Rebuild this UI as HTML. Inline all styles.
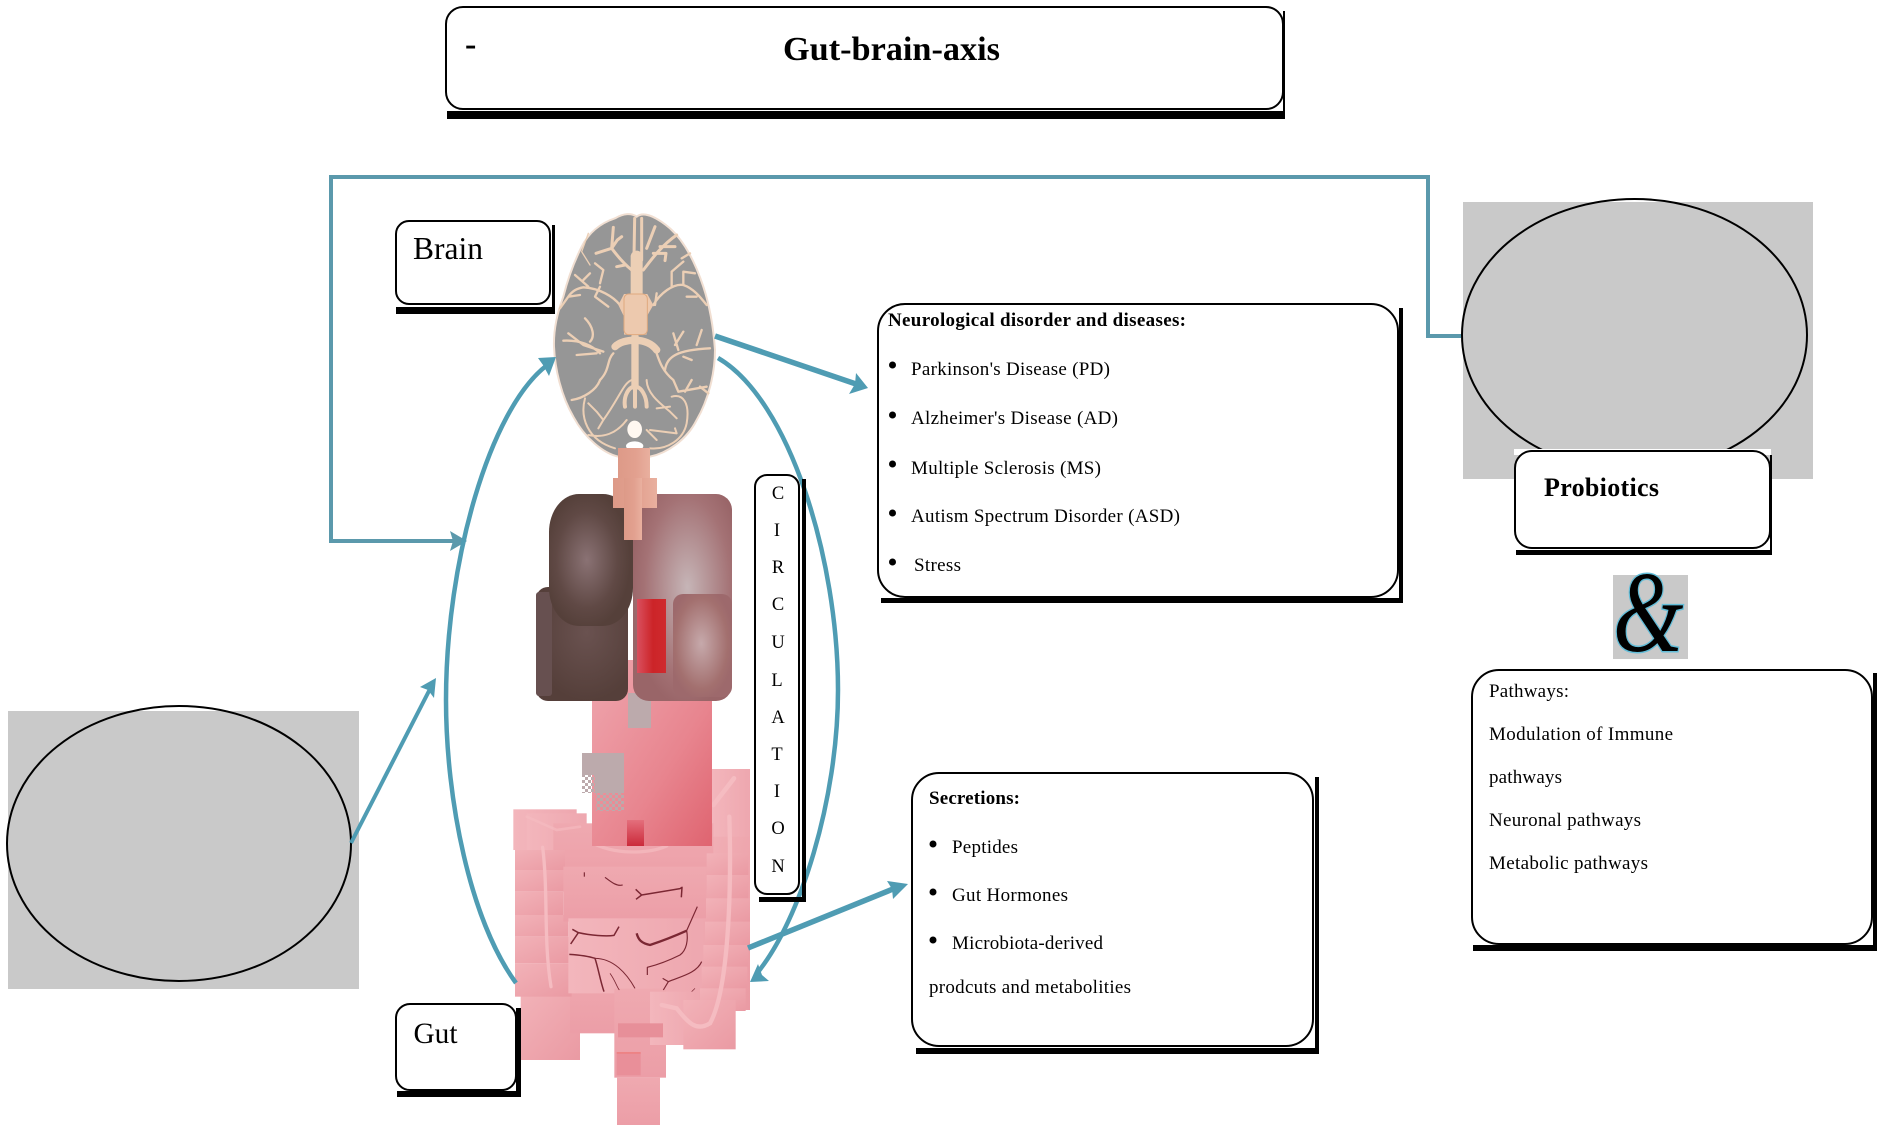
<!DOCTYPE html>
<html><head><meta charset="utf-8"><title>Gut-brain-axis</title>
<style>
html,body{margin:0;padding:0;background:#fff;width:1883px;height:1132px;overflow:hidden}
svg{position:absolute;left:0;top:0;display:block}
text{font-family:"Liberation Serif",serif;fill:#000}
.b{font-weight:bold}
.box{fill:#fff;stroke:#000;stroke-width:2}
</style></head><body>
<svg width="1883" height="1132" viewBox="0 0 1883 1132" xmlns="http://www.w3.org/2000/svg">
<defs>
<linearGradient id="p1" x1="0" y1="0" x2="1" y2="1"><stop offset="0" stop-color="#f2b2b8"/><stop offset="1" stop-color="#ea9aa3"/></linearGradient>
<linearGradient id="p2" x1="0" y1="0" x2="0" y2="1"><stop offset="0" stop-color="#efa9b0"/><stop offset="1" stop-color="#ec9ea7"/></linearGradient>
<linearGradient id="p3" x1="0" y1="0" x2="1" y2="0"><stop offset="0" stop-color="#f3b6bc"/><stop offset="1" stop-color="#eea7af"/></linearGradient>
<linearGradient id="st" x1="0" y1="0" x2="1" y2="1"><stop offset="0" stop-color="#efa6ae"/><stop offset=".6" stop-color="#e8858f"/><stop offset="1" stop-color="#df6470"/></linearGradient>
<linearGradient id="red" x1="0" y1="0" x2="1" y2="0"><stop offset="0" stop-color="#d9505f"/><stop offset=".55" stop-color="#cc2428"/><stop offset="1" stop-color="#cf2a2e"/></linearGradient>
<linearGradient id="red2" x1="0" y1="0" x2="0" y2="1"><stop offset="0" stop-color="#e46f7c"/><stop offset="1" stop-color="#cb2a3a"/></linearGradient>
<linearGradient id="neck" x1="0" y1="0" x2="1" y2="0"><stop offset="0" stop-color="#dd9a88"/><stop offset=".55" stop-color="#e2a08f"/><stop offset="1" stop-color="#e9b09f"/></linearGradient>
<radialGradient id="d1" cx=".45" cy=".5" r=".52"><stop offset="0" stop-color="#8a7274"/><stop offset=".7" stop-color="#604945"/><stop offset="1" stop-color="#55403a"/></radialGradient>
<radialGradient id="d2" cx=".55" cy=".4" r=".6"><stop offset="0" stop-color="#6a5250"/><stop offset="1" stop-color="#553f3a"/></radialGradient>
<radialGradient id="r1" cx=".55" cy=".45" r=".58"><stop offset="0" stop-color="#c6b5b7"/><stop offset=".75" stop-color="#a47275"/><stop offset="1" stop-color="#996568"/></radialGradient>
<radialGradient id="r2" cx=".48" cy=".48" r=".55"><stop offset="0" stop-color="#c6a9ab"/><stop offset=".8" stop-color="#a3706f"/><stop offset="1" stop-color="#9d696c"/></radialGradient>
<pattern id="dith" width="6" height="6" patternUnits="userSpaceOnUse"><rect width="3" height="3" fill="#bcaaac"/><rect x="3" y="3" width="3" height="3" fill="#bcaaac"/></pattern>
</defs>

<!-- left grey figure -->
<rect x="8" y="711" width="351" height="278" fill="#c9c9c9"/>
<ellipse cx="179" cy="843.500" rx="172" ry="137.500" fill="none" stroke="#000" stroke-width="2"/>

<!-- right grey figure -->
<rect x="1463" y="202" width="350" height="277" fill="#c9c9c9"/>
<ellipse cx="1634.500" cy="335" rx="172.500" ry="136" fill="none" stroke="#000" stroke-width="2"/>

<!-- intestines -->
<g transform="translate(480,760) scale(.33333)">
<rect x="695" y="27" width="115" height="225" fill="url(#p3)"/>
<rect x="660" y="230" width="150" height="520" fill="url(#p1)"/>
<rect x="122" y="700" width="178" height="200" fill="url(#p1)"/>
<rect x="270" y="620" width="140" height="200" fill="url(#p2)"/>
<rect x="100" y="148" width="190" height="122" fill="url(#p3)"/>
<rect x="140" y="160" width="180" height="130" fill="url(#p3)"/>
<rect x="220" y="190" width="480" height="200" fill="url(#p2)"/>
<rect x="105" y="270" width="150" height="60" fill="url(#p1)"/>
<rect x="105" y="330" width="150" height="65" fill="url(#p1)"/>
<rect x="105" y="395" width="145" height="70" fill="url(#p1)"/>
<rect x="105" y="465" width="160" height="65" fill="url(#p1)"/>
<rect x="105" y="530" width="165" height="80" fill="url(#p1)"/>
<rect x="105" y="610" width="170" height="100" fill="url(#p1)"/>
<rect x="250" y="320" width="430" height="165" fill="url(#p2)"/>
<rect x="265" y="475" width="415" height="225" fill="url(#p3)"/>
<rect x="680" y="280" width="125" height="65" fill="url(#p1)"/>
<rect x="680" y="345" width="125" height="70" fill="url(#p1)"/>
<rect x="678" y="415" width="132" height="70" fill="url(#p1)"/>
<rect x="675" y="485" width="135" height="70" fill="url(#p1)"/>
<rect x="670" y="555" width="135" height="65" fill="url(#p1)"/>
<rect x="665" y="620" width="137" height="65" fill="url(#p1)"/>
<rect x="660" y="685" width="137" height="68" fill="url(#p1)"/>
<rect x="403" y="686" width="155" height="267" fill="url(#p2)"/>
<rect x="510" y="695" width="150" height="160" fill="url(#p3)"/>
<rect x="610" y="720" width="157" height="148" fill="url(#p1)"/>
<rect x="411" y="953" width="129" height="142" fill="url(#p2)"/>
<rect x="414" y="790" width="135" height="42" fill="#e78f99"/>
<rect x="410" y="878" width="72" height="68" fill="#e98f99"/>
<rect x="410" y="876" width="72" height="5" fill="#f0736f" opacity=".6"/>
<g fill="none" stroke="#f5bcc1" stroke-linecap="round">
<path d="M188 262 C205 400 190 540 213 680" stroke-width="10"/>
<path d="M748 170 C755 400 745 690 690 790 C650 815 625 790 590 745 L545 735" stroke-width="13"/>
<path d="M762 55 L700 135" stroke-width="14"/>
<path d="M140 170 L230 210 L300 200" stroke-width="8" opacity=".6"/>
<path d="M350 255 C420 285 510 280 560 258" stroke-width="10" opacity=".7"/>
</g>
<g fill="none" stroke="#7b2733" stroke-width="3.500" stroke-linejoin="round">
<path d="M313 337 L313 350"/>
<path d="M375 352 C392 365 410 380 428 375"/>
<path d="M467 388 L485 405 L468 418 M485 405 L600 386 L606 382 L604 412" stroke-width="4.500"/>
<path d="M277 508 L295 518 L272 552 M295 518 C330 526 380 530 402 526 L417 500" stroke-width="4.500"/>
<path d="M268 583 C300 585 330 590 345 595 C355 625 360 660 372 695" stroke-width="4.500"/>
<path d="M345 595 C400 595 440 640 465 685" stroke-width="3"/>
<path d="M390 640 C405 660 410 680 418 690" stroke-width="2.500"/>
<path d="M652 440 L620 512 C625 540 620 570 600 585 C570 600 530 615 502 622 L502 645"/>
<path d="M470 520 C475 540 485 550 510 555 C540 545 580 530 620 512" stroke-width="7"/>
<path d="M548 655 L565 665 L550 690 M565 665 C600 650 650 640 665 605"/>
<path d="M635 695 L645 685" stroke-width="2"/>
</g>
</g>

<!-- stomach -->
<rect x="592" y="660" width="120" height="186" fill="url(#st)"/>
<rect x="627" y="820" width="17" height="26" fill="url(#red2)"/>
<rect x="628" y="693" width="23" height="35" fill="#bcaaac"/>
<rect x="582" y="753" width="42" height="22" fill="#bcaaac"/>
<rect x="595" y="775" width="29" height="18" fill="#bcaaac"/>
<rect x="582" y="775" width="13" height="18" fill="url(#dith)"/>
<rect x="596" y="793" width="28" height="18" fill="url(#dith)"/>

<!-- organs -->
<rect x="536" y="587" width="92" height="114" rx="12" fill="url(#d2)"/>
<rect x="536" y="592" width="16" height="104" rx="3" fill="#675050"/>
<rect x="549" y="494" width="84" height="132" rx="30" ry="38" fill="url(#d1)"/>
<rect x="633" y="494" width="99" height="207" rx="16" fill="url(#r1)"/>
<rect x="637" y="599" width="29" height="74" fill="url(#red)"/>
<rect x="673" y="594" width="59" height="103" rx="10" fill="url(#r2)"/>

<!-- brain -->
<g transform="translate(500,190) scale(.33333)">
<path d="M410 80 C395 68 370 70 345 85 C300 100 265 130 245 170 C225 210 205 260 190 320 C175 360 160 410 162 470 C165 540 185 620 220 680 C255 745 310 790 355 800 L450 800 C500 790 560 750 590 690 C625 630 645 550 645 480 C640 410 630 350 610 290 C590 230 560 160 510 115 C480 90 435 60 410 80 Z" fill="#969696" stroke="#f1dfd2" stroke-width="6"/>
<g fill="none" stroke="#eccfb5" stroke-width="8" stroke-linecap="round" stroke-linejoin="round">
<path d="M404 85 L402 200 M425 85 L425 210" stroke-width="9"/>
<path d="M410 200 L410 310" stroke-width="36"/>
<path d="M395 240 C370 220 350 195 335 175 L288 190 M335 175 L352 150 L365 140 M340 112 L335 175 M375 225 L350 230" stroke-width="9"/>
<path d="M430 240 C450 215 480 170 530 135 M480 170 L525 170 M460 190 L498 190 L495 212 M465 110 L440 175" stroke-width="9"/>
<path d="M360 345 C340 320 300 295 250 292 C230 295 215 305 205 320 L180 355 M205 320 L240 315 M300 290 L285 320 L325 350 M300 280 L310 240 L285 220 M265 290 L225 255 M250 270 L270 250" stroke-width="7"/>
<path d="M270 225 L245 185 L265 130" stroke-width="4"/>
<path d="M460 345 C480 310 520 280 550 285 C580 295 600 320 620 345 M470 310 L465 345 M515 290 L515 245 L550 215 M550 285 L550 245 L585 250 M560 320 L590 320 M570 190 L545 205" stroke-width="7"/>
<path d="M345 470 C370 445 440 440 470 480" stroke-width="22"/>
<path d="M405 440 L405 590" stroke-width="22"/>
<path d="M405 590 C385 590 370 620 375 650 M405 590 C425 590 440 620 440 650 M405 600 L405 650" stroke-width="12"/>
<path d="M340 490 C320 510 330 540 300 570 C290 600 250 625 215 630 M300 490 C270 460 230 450 190 452 M205 430 L250 465 L310 485 M255 385 C280 410 285 440 270 455 M230 495 L290 490" stroke-width="7"/>
<path d="M470 490 C480 520 490 545 520 570 L535 605 M495 540 C500 500 530 480 630 475 M520 430 L535 480 M550 425 L525 465 M605 420 L590 465 M550 500 L575 510 M535 605 L620 590 M575 570 L555 605 M600 590 L625 610" stroke-width="7"/>
<path d="M395 570 C370 580 360 620 310 690 L295 715 M440 570 C440 610 480 640 510 665 L530 685 M515 620 C550 610 570 640 560 700 C550 750 500 780 450 775 M255 625 C240 680 260 750 345 775 M265 640 L290 665 L310 690 M380 690 C350 730 310 745 265 735 M440 720 L470 750 M450 720 L530 730 L525 715 M470 655 L510 650" stroke-width="6"/>
</g>
<path d="M355 345 L372 312 L442 312 L460 345 L440 380 L440 434 L372 434 L372 380 Z" fill="#edc9ae"/>
<rect x="372" y="312" width="70" height="122" rx="14" fill="#edc9ae" stroke="#e0a97e" stroke-width="3"/>
<ellipse cx="404" cy="718" rx="22" ry="26" fill="#fff8f1"/>
<ellipse cx="404" cy="768" rx="26" ry="14" fill="#fff"/>
</g>

<!-- neck -->
<rect x="618" y="448" width="32" height="32" fill="url(#neck)"/>
<rect x="613" y="478" width="44" height="30" fill="url(#neck)"/>
<rect x="624" y="478" width="18" height="62" fill="url(#neck)"/>

<!-- connectors -->
<g fill="none" stroke="#5b99ac" stroke-width="4">
<path d="M1461 336 L1428 336 L1428 177 L331 177 L331 541 L455 541"/>
</g>
<path d="M467 541 L450 531 L453 541 L450 551 Z" fill="#5b99ac"/>
<g fill="none" stroke="#4f9cb3">
<path d="M516 983 C470 920 446 800 446 700 C446 560 490 410 546 366" stroke-width="4.500"/>
<path d="M718 358 C790 400 838 560 838 690 C838 800 800 920 758 972" stroke-width="4.500"/>
<path d="M715 336 L856 384" stroke-width="5.500"/>
<path d="M748 948 L893 889" stroke-width="5.500"/>
<path d="M351 843 L430 689" stroke-width="4"/>
</g>
<g fill="#4f9cb3">
<path d="M556 357 L538 358 L543 365 L549 376 Z"/>
<path d="M750 982 L769 981 L762 975 L758 964 Z"/>
<path d="M868 388 L856 373 L855 384 L849 394 Z"/>
<path d="M908 884 L887 881 L892 889 L893 899 Z"/>
<path d="M436 678 L420 687 L428 690 L434 698 Z"/>
</g>

<!-- title -->
<rect x="447" y="111" width="838" height="8" fill="#000"/>
<rect x="1283" y="11" width="2" height="108" fill="#000"/>
<rect class="box" x="446" y="7" width="837" height="102" rx="17"/>
<text class="b" x="465" y="55" font-size="34">-</text>
<text class="b" x="783" y="60" font-size="34" textLength="217" lengthAdjust="spacingAndGlyphs">Gut-brain-axis</text>

<!-- brain label -->
<rect x="396" y="307" width="159" height="7" fill="#000"/>
<rect x="552" y="225" width="3" height="89" fill="#000"/>
<rect class="box" x="396" y="221" width="154" height="83" rx="13"/>
<text x="413" y="259" font-size="31.500" textLength="70" lengthAdjust="spacingAndGlyphs">Brain</text>

<!-- gut label -->
<rect x="397" y="1091" width="124" height="6" fill="#000"/>
<rect x="516" y="1008" width="5" height="89" fill="#000"/>
<rect class="box" x="396" y="1004" width="120" height="86" rx="14"/>
<text x="413.500" y="1043" font-size="30" textLength="44" lengthAdjust="spacingAndGlyphs">Gut</text>

<!-- circulation -->
<rect x="759" y="897" width="47" height="5" fill="#000"/>
<rect x="802" y="479" width="4" height="423" fill="#000"/>
<rect class="box" x="755" y="475" width="44" height="419" rx="12"/>
<g font-size="18.500" text-anchor="middle">
<text x="778" y="499">C</text><text x="777" y="536">I</text><text x="778" y="573">R</text><text x="778" y="610">C</text><text x="778" y="648">U</text><text x="777" y="686">L</text><text x="778" y="723">A</text><text x="777" y="760">T</text><text x="777" y="797">I</text><text x="778" y="834">O</text><text x="778" y="872">N</text>
</g>

<!-- neurological -->
<rect x="881" y="598" width="522" height="5" fill="#000"/>
<rect x="1399" y="308" width="4" height="295" fill="#000"/>
<rect class="box" x="878" y="304" width="520" height="293" rx="27"/>
<text class="b" x="888" y="326" font-size="19" textLength="298" lengthAdjust="spacing">Neurological disorder and diseases:</text>
<g fill="#000"><circle cx="892.500" cy="365" r="3.500"/><circle cx="892.500" cy="415" r="3.500"/><circle cx="892.500" cy="464" r="3.500"/><circle cx="892.500" cy="513" r="3.500"/><circle cx="892.500" cy="562" r="3.500"/></g>
<g font-size="19">
<text x="911" y="375" textLength="199" lengthAdjust="spacing">Parkinson's Disease (PD)</text>
<text x="911" y="424" textLength="207" lengthAdjust="spacing">Alzheimer's Disease (AD)</text>
<text x="911" y="474" textLength="190" lengthAdjust="spacing">Multiple Sclerosis (MS)</text>
<text x="911" y="522" textLength="269" lengthAdjust="spacing">Autism Spectrum Disorder (ASD)</text>
<text x="914" y="571" textLength="47" lengthAdjust="spacing">Stress</text>
</g>

<!-- secretions -->
<rect x="916" y="1048" width="403" height="6" fill="#000"/>
<rect x="1315" y="777" width="4" height="277" fill="#000"/>
<rect class="box" x="912" y="773" width="401" height="273" rx="27"/>
<text class="b" x="929" y="804" font-size="19" textLength="91" lengthAdjust="spacing">Secretions:</text>
<g fill="#000"><circle cx="933" cy="844" r="3.500"/><circle cx="933" cy="892" r="3.500"/><circle cx="933" cy="940" r="3.500"/></g>
<g font-size="19">
<text x="952" y="853" textLength="66" lengthAdjust="spacing">Peptides</text>
<text x="952" y="901" textLength="116" lengthAdjust="spacing">Gut Hormones</text>
<text x="952" y="949" textLength="151" lengthAdjust="spacing">Microbiota-derived</text>
<text x="929" y="993" textLength="202" lengthAdjust="spacing">prodcuts and metabolities</text>
</g>

<!-- probiotics -->
<rect x="1514" y="449" width="257" height="6" fill="#fff"/>
<rect x="1516" y="550" width="256" height="5" fill="#000"/>
<rect x="1770" y="455" width="2" height="100" fill="#000"/>
<rect class="box" x="1515" y="451" width="255" height="97" rx="17"/>
<text class="b" x="1544" y="496" font-size="26" textLength="115" lengthAdjust="spacing">Probiotics</text>

<!-- ampersand -->
<rect x="1613" y="575" width="75" height="84" fill="#c9c9c9"/>
<text transform="translate(1613,651) scale(.78,1)" x="0" y="0" font-size="116" font-style="italic" stroke="#63bdd8" stroke-width="3" paint-order="stroke" style="fill:#000">&amp;</text>

<!-- pathways -->
<rect x="1473" y="945" width="404" height="6" fill="#000"/>
<rect x="1873" y="673" width="4" height="278" fill="#000"/>
<rect class="box" x="1472" y="670" width="400" height="274" rx="27"/>
<g font-size="19">
<text x="1489" y="697" textLength="80" lengthAdjust="spacing">Pathways:</text>
<text x="1489" y="740" textLength="184" lengthAdjust="spacing">Modulation of Immune</text>
<text x="1489" y="783" textLength="73" lengthAdjust="spacing">pathways</text>
<text x="1489" y="826" textLength="152" lengthAdjust="spacing">Neuronal pathways</text>
<text x="1489" y="869" textLength="159" lengthAdjust="spacing">Metabolic pathways</text>
</g>
</svg>
</body></html>
